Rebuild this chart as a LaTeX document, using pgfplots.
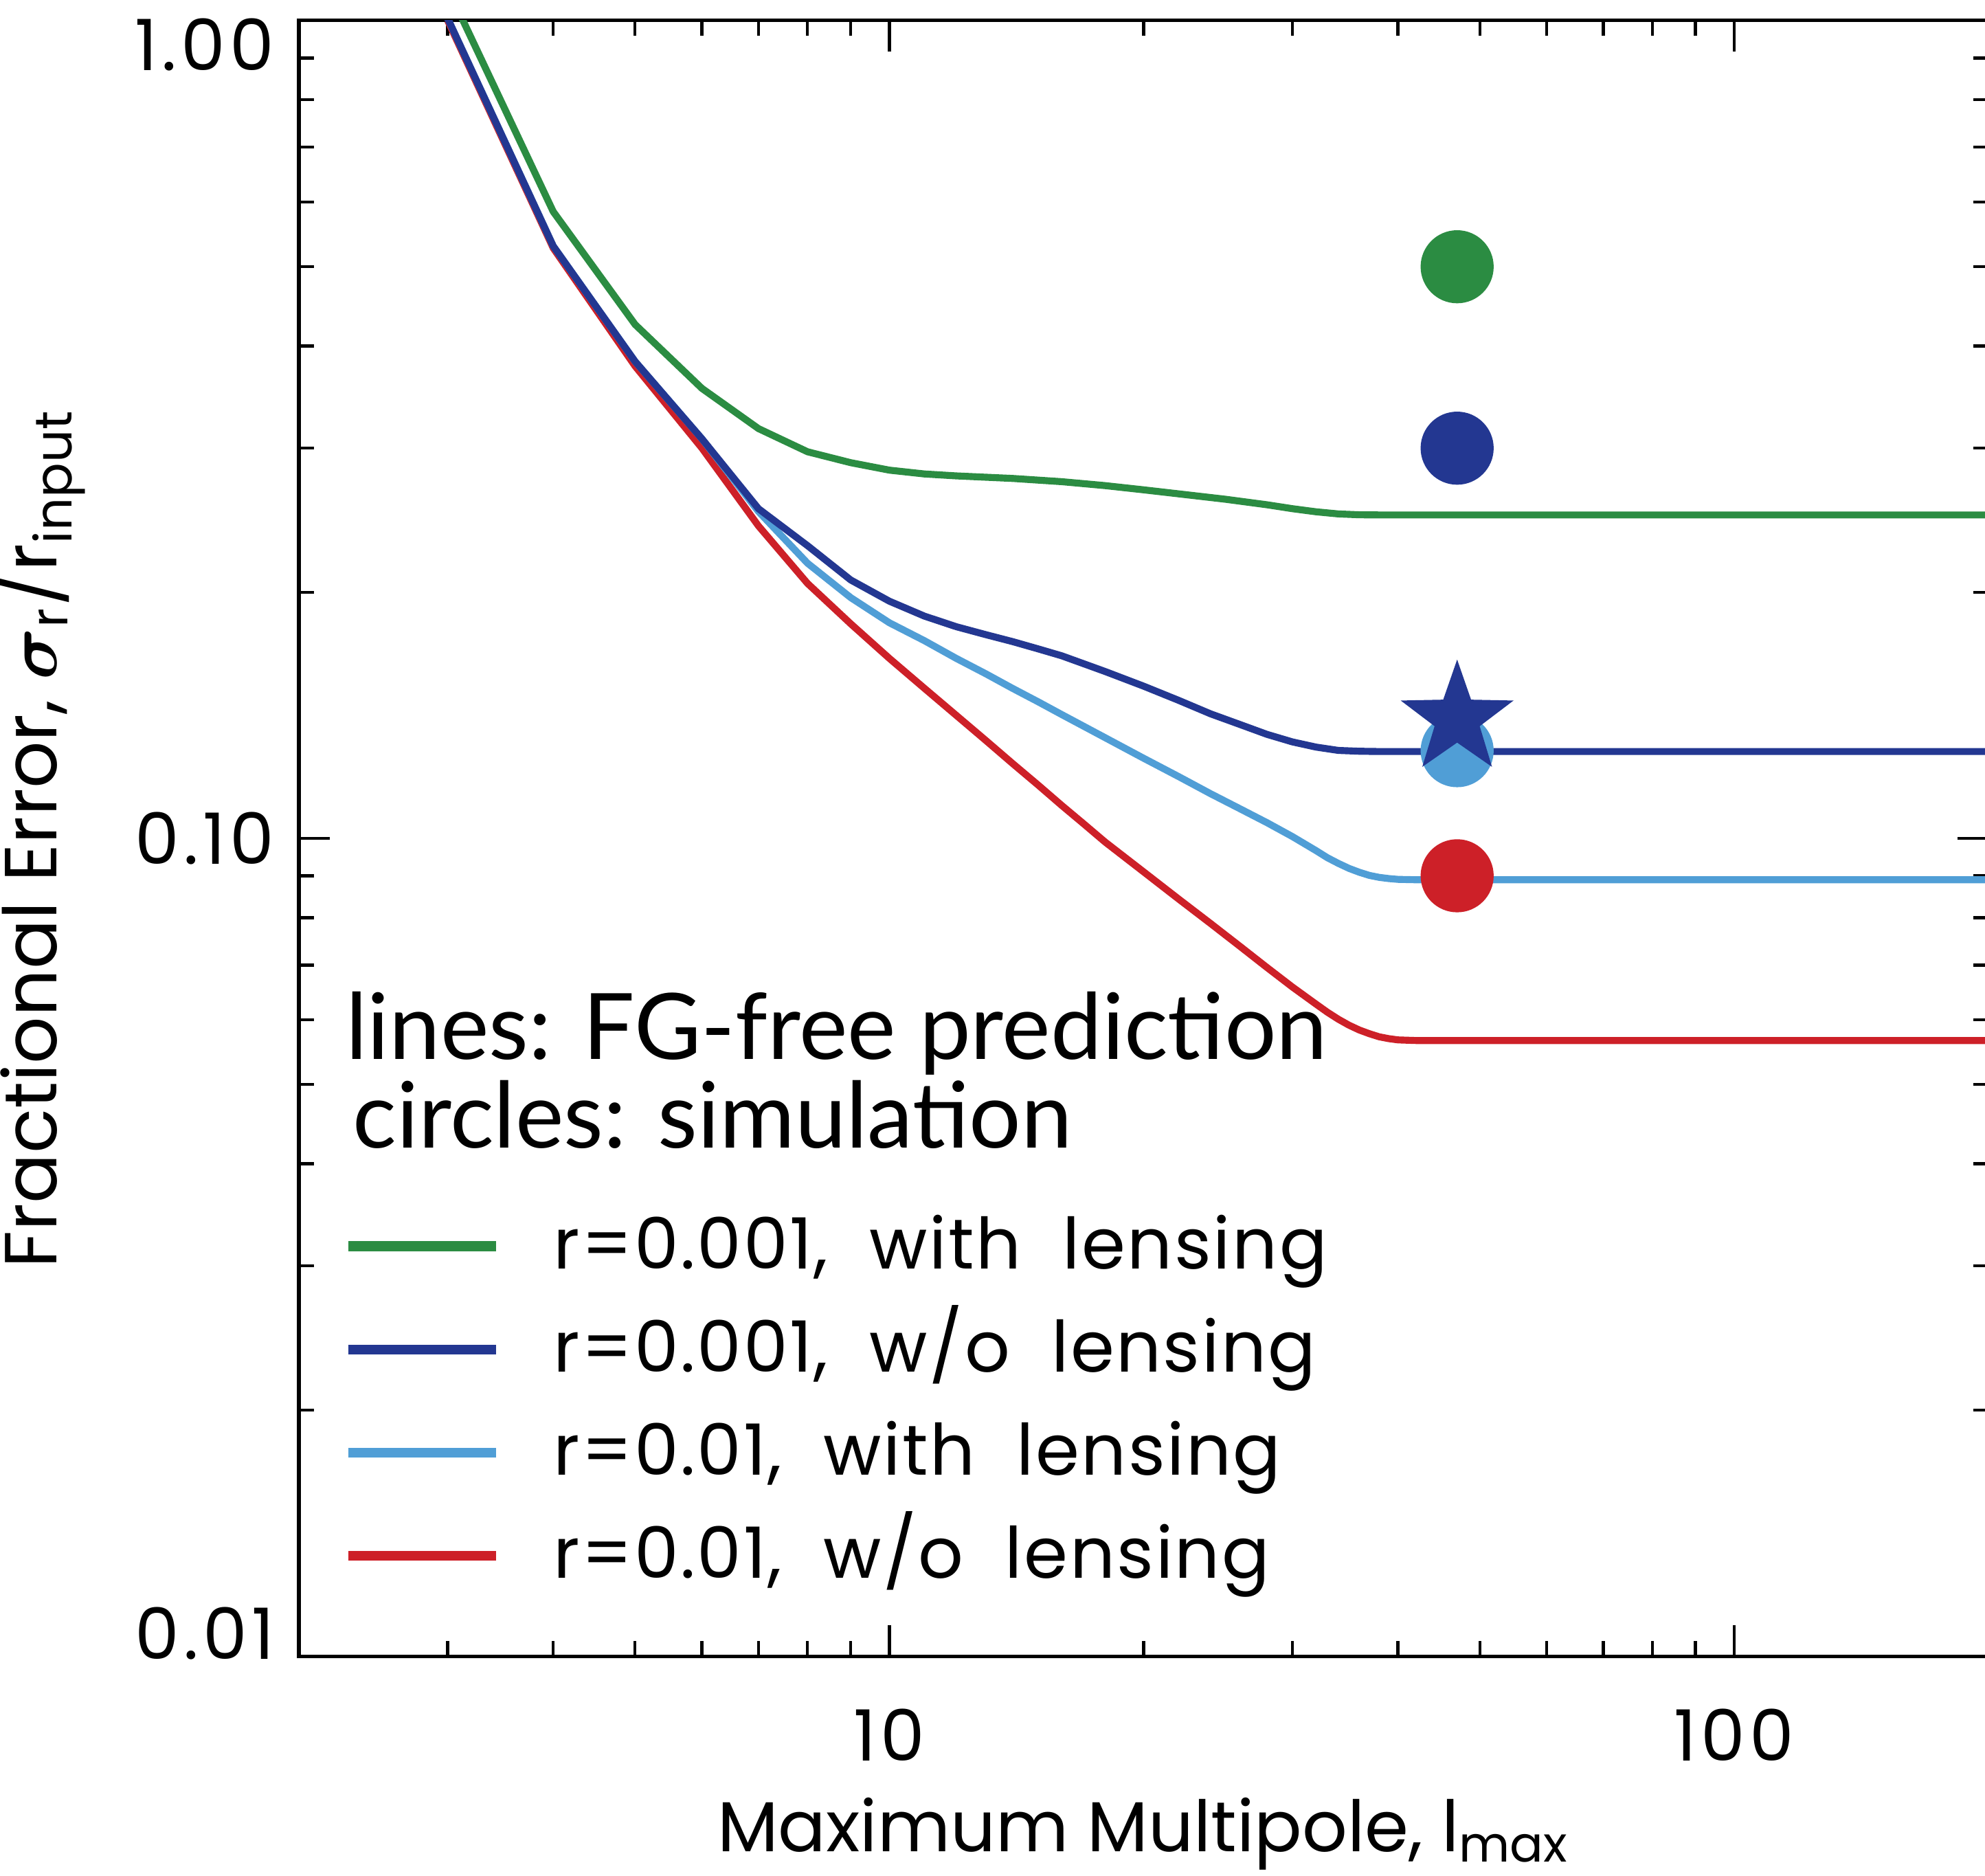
\documentclass[border=0pt]{standalone}
\usepackage{pgfplots}
\usepackage{pgfplotstable}
\pgfplotsset{compat=1.18}
\usepackage{fontspec}
\setmainfont{Poppins}
\newfontfamily\tickfont{Poppins}[LetterSpace=6]
\newfontfamily\legfont{Poppins}[LetterSpace=2.5,WordSpace=2]
\newfontfamily\gill{Lato}
\definecolor{cgreen}{RGB}{43,140,66}
\definecolor{cdblue}{RGB}{35,55,145}
\definecolor{clblue}{RGB}{80,158,214}
\definecolor{cred}{RGB}{205,32,40}

\pgfdeclareplotmark{fstar}{%
  \pgfpathmoveto{\pgfpointpolar{90}{\pgfplotmarksize}}%
  \pgfpathlineto{\pgfpointpolar{126}{0.4\pgfplotmarksize}}%
  \pgfpathlineto{\pgfpointpolar{162}{\pgfplotmarksize}}%
  \pgfpathlineto{\pgfpointpolar{198}{0.4\pgfplotmarksize}}%
  \pgfpathlineto{\pgfpointpolar{234}{\pgfplotmarksize}}%
  \pgfpathlineto{\pgfpointpolar{270}{0.4\pgfplotmarksize}}%
  \pgfpathlineto{\pgfpointpolar{306}{\pgfplotmarksize}}%
  \pgfpathlineto{\pgfpointpolar{342}{0.4\pgfplotmarksize}}%
  \pgfpathlineto{\pgfpointpolar{18}{\pgfplotmarksize}}%
  \pgfpathlineto{\pgfpointpolar{54}{0.4\pgfplotmarksize}}%
  \pgfpathclose
  \pgfusepathqfill
}

\pgfplotstableread{
l v
3 1.096
4 0.584
5 0.425
6 0.355
7 0.317
8 0.297
9 0.288
10 0.282
11 0.2790
12 0.2775
14 0.2755
16 0.2730
18 0.2700
20 0.2668
22 0.2638
25 0.2598
28 0.2558
30 0.2530
32 0.2508
34 0.2493
36 0.2487
38 0.2486
60 0.2486
100 0.2486
200 0.2486
}\tgreen

\pgfplotstableread{
l v
3 1.006
4 0.530
5 0.383
6 0.308
7 0.253
8 0.228
9 0.207
10 0.195
11 0.187
12 0.1815
13 0.1775
14 0.1740
15 0.1705
16 0.1672
18 0.1600
20 0.1535
22 0.1475
24 0.1420
26 0.1378
28 0.1340
30 0.1312
32 0.1293
34 0.1281
36 0.1278
38 0.1277
100 0.1277
200 0.1277
}\tdblue

\pgfplotstableread{
l v
3 1.006
4 0.530
5 0.383
6 0.308
7 0.251
8 0.217
9 0.197
10 0.1835
11 0.1745
12 0.1660
13 0.1590
14 0.1525
15 0.1469
16 0.1417
18 0.1328
20 0.1253
22 0.1190
24 0.1134
26 0.1087
28 0.1045
30 0.1005
32 0.0966
33 0.0947
34 0.0932
35 0.0919
36 0.0909
37 0.0901
38 0.0896
39 0.0893
40 0.0891
42 0.0890
100 0.0890
200 0.0890
}\tlblue

\pgfplotstableread{
l v
3 1.000
4 0.527
5 0.378
6 0.300
7 0.241
8 0.205
9 0.183
10 0.166
11 0.1526
12 0.1414
13 0.1318
14 0.1234
15 0.1162
16 0.1097
17 0.1041
18 0.0990
20 0.0910
22 0.0843
24 0.0787
26 0.0738
28 0.0695
30 0.0658
32 0.0627
33 0.0613
34 0.0601
35 0.0591
36 0.0583
37 0.0577
38 0.0572
39 0.0569
40 0.0567
42 0.0566
100 0.0566
200 0.0566
}\tred

\begin{document}
\fontsize{14.2}{17}\selectfont
\begin{tikzpicture}
\begin{axis}[
  at={(0,0)}, anchor=south west,
  scale only axis, width=11.916cm, height=11.534cm,
  xmode=log, ymode=log,
  xmin=2, xmax=200, ymin=0.01, ymax=1,
  xtick={10,100}, xticklabels={10,100},
  ytick={0.01,0.1,1},
  yticklabels={{\raisebox{0.16cm}[\height][\depth]{0.01}},{0.10},{\raisebox{-0.17cm}[\height][\depth]{1.00}}},
  minor xtick={3,4,5,6,7,8,9,20,30,40,50,60,70,80,90},
  minor ytick={0.02,0.03,0.04,0.05,0.06,0.07,0.08,0.09,0.2,0.3,0.4,0.5,0.6,0.7,0.8,0.9},
  major tick length=0.218cm, minor tick length=0.107cm,
  tick style={black, line width=0.6pt},
  axis line style={line width=0.7pt},
  /pgf/number format/assume math mode=true,
  tick label style={font=\tickfont},
  xticklabel style={yshift=-0.2cm},
  xlabel={Maximum Multipole, l\textsubscript{max}},
  ylabel={Fractional Error, {\boldmath$\sigma$}\textsubscript{r}/r\textsubscript{input}},
  xlabel style={at={([yshift=-1.376cm]axis description cs:0.5,0)}, anchor=base},
  ylabel style={at={([xshift=-1.706cm]axis description cs:0,0.5)}, anchor=base, font=\fontsize{14.8}{17}\selectfont},
  legend style={draw=none, fill=none, at={(axis description cs:0.0257,0.2685)}, anchor=north west,
    inner sep=0pt, row sep=0.267cm, column sep=0.372cm, font=\legfont,
    nodes={inner sep=0pt, text height=0.36cm, text depth=0.1cm, anchor=base west}},
  legend cell align=left,
  reverse legend,
  legend image code/.code={\draw[line width=2pt] (0cm,0.16cm) -- (1.04cm,0.16cm);},
]
\addplot[only marks, mark=*, mark size=7.13pt, color=cgreen, forget plot] coordinates {(47,0.50)};
\addplot[only marks, mark=*, mark size=7.13pt, color=cdblue, forget plot] coordinates {(47,0.30)};
\addplot[only marks, mark=*, mark size=7.13pt, color=clblue, forget plot] coordinates {(47,0.128)};
\addplot[only marks, mark=fstar, mark size=11.9pt, color=cdblue, forget plot] coordinates {(47,0.140)};
\addplot[only marks, mark=*, mark size=7.13pt, color=cred, forget plot] coordinates {(47,0.090)};

\addplot[cred, line width=1.4pt, no markers] table[x=l,y=v] {\tred};
\addlegendentry{r=0.01, w/o lensing}
\addplot[clblue, line width=1.4pt, no markers] table[x=l,y=v] {\tlblue};
\addlegendentry{r=0.01, with lensing}
\addplot[cdblue, line width=1.4pt, no markers] table[x=l,y=v] {\tdblue};
\addlegendentry{r=0.001, w/o lensing}
\addplot[cgreen, line width=1.4pt, no markers] table[x=l,y=v] {\tgreen};
\addlegendentry{r=0.001, with lensing}

\node[anchor=base west, inner sep=0pt, font=\gill\fontsize{18.4}{22}\selectfont] at (axis description cs:0.0272,0.3651) {lines: FG-free prediction};
\node[anchor=base west, inner sep=0pt, font=\gill\fontsize{18.4}{22}\selectfont] at (axis description cs:0.0313,0.3109) {circles: simulation};
\end{axis}
\pgfresetboundingbox
\path[use as bounding box] (-2.108cm,-1.546cm) rectangle (11.892cm,11.679cm);
\end{tikzpicture}
\end{document}
